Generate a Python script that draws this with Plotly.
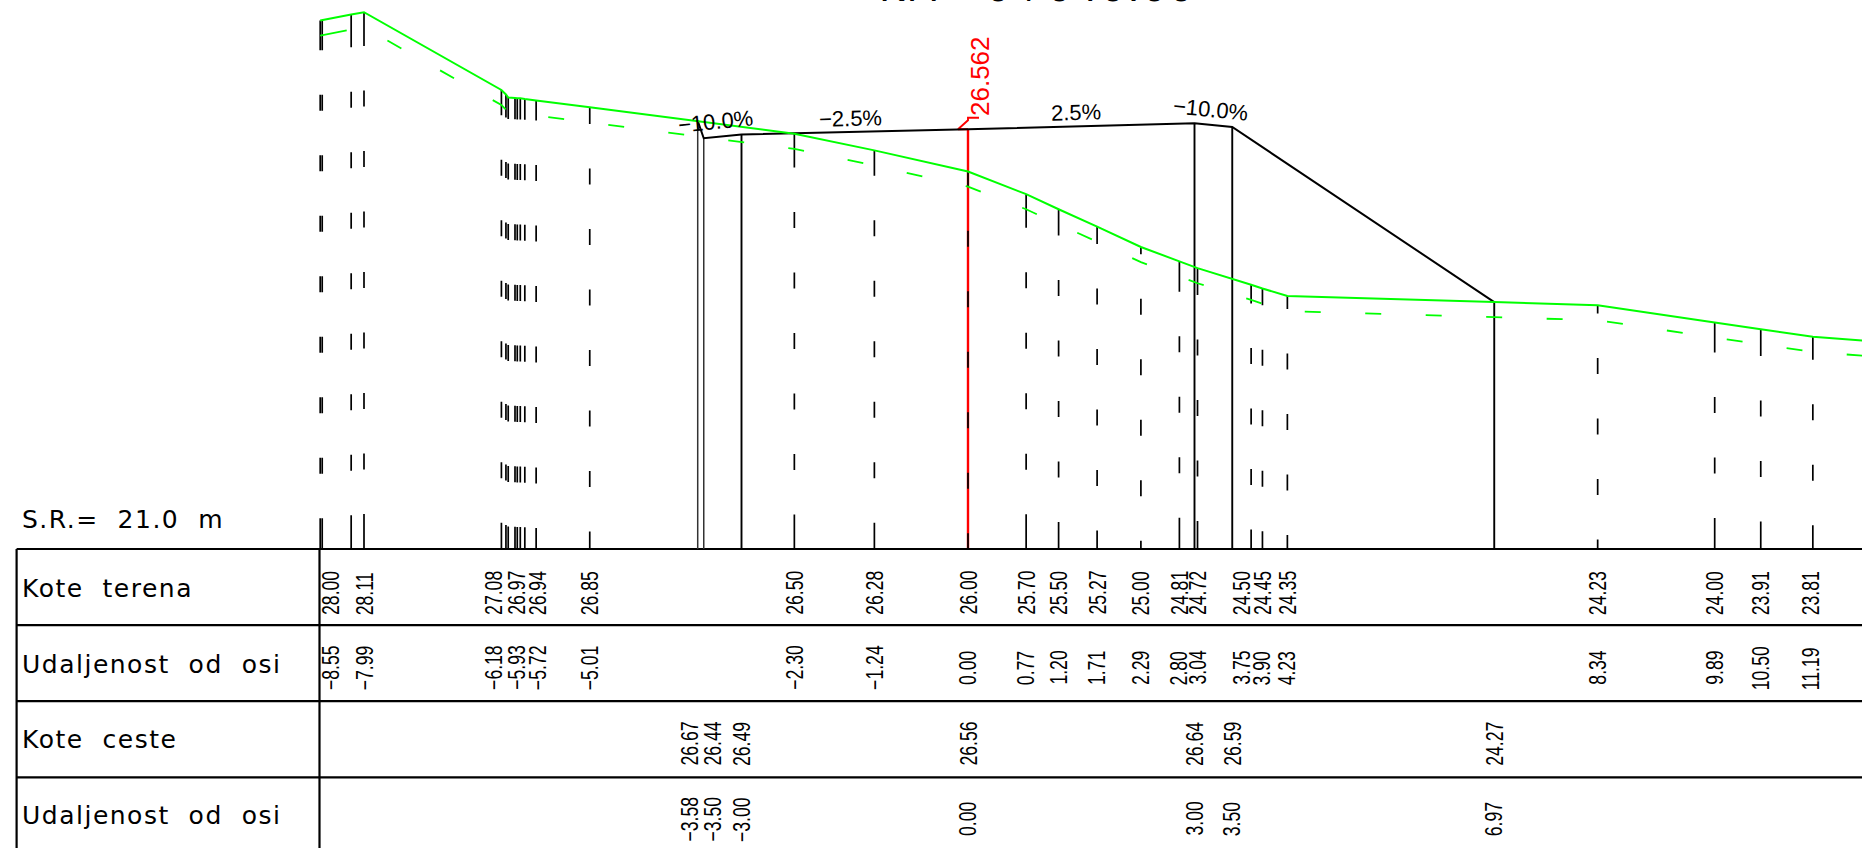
import plotly.graph_objects as go

# ---------- data (metres) ----------
terrain_offset = [-8.58, -8.17, -8.00, -6.18, -6.12, -6.09, -6.00, -5.97, -5.93, -5.87, -5.72, -5.01,
                  -2.30, -1.24, 0.00, 0.77, 1.20, 1.71, 2.29, 2.80, 3.04, 3.75, 3.90, 4.23,
                  6.97, 8.34, 9.89, 10.50, 11.19, 11.85]
terrain_elev = [28.00, 28.08, 28.11, 27.08, 27.02, 26.98, 26.975, 26.97, 26.97, 26.96, 26.94, 26.85,
                26.50, 26.28, 26.00, 25.70, 25.50, 25.27, 25.00, 24.81, 24.72, 24.50, 24.45, 24.35,
                24.27, 24.23, 24.00, 23.91, 23.81, 23.76]
no_tick_offsets = [6.97, 11.85]

road_offset = [-3.58, -3.50, -3.00, 0.00, 3.00, 3.50, 6.97]
road_elev = [26.67, 26.44, 26.49, 26.56, 26.64, 26.59, 24.27]

label_offset_terrain = [-8.55, -7.99, -6.18, -5.93, -5.72, -5.01, -2.30, -1.24, 0.00, 0.77, 1.20, 1.71,
                        2.29, 2.80, 3.04, 3.75, 3.90, 4.23, 8.34, 9.89, 10.50, 11.19]
label_elev_terrain = ["28.00", "28.11", "27.08", "26.97", "26.94", "26.85", "26.50", "26.28", "26.00",
                      "25.70", "25.50", "25.27", "25.00", "24.81", "24.72", "24.50", "24.45", "24.35",
                      "24.23", "24.00", "23.91", "23.81"]
label_dist_terrain = ["−8.55", "−7.99", "−6.18", "−5.93", "−5.72", "−5.01", "−2.30", "−1.24", "0.00",
                      "0.77", "1.20", "1.71", "2.29", "2.80", "3.04", "3.75", "3.90", "4.23",
                      "8.34", "9.89", "10.50", "11.19"]
label_elev_road = ["26.67", "26.44", "26.49", "26.56", "26.64", "26.59", "24.27"]
label_dist_road = ["−3.58", "−3.50", "−3.00", "0.00", "3.00", "3.50", "6.97"]
row_names = ["Kote  terena", "Udaljenost  od  osi", "Kote  ceste", "Udaljenost  od  osi"]
slopes = ["−10.0%", "−2.5%", "2.5%", "−10.0%"]
slope_offset = [-3.34, -1.55, 1.43, 3.21]
slope_elev = [26.66, 26.70, 26.78, 26.82]
slope_angle = [-5.7, -1.5, -1.5, 5.7]
title_text = "KM   0+040.00"
datum_text = "S.R.=  21.0  m"
axis_value = "26.562"

# ---------- layout constants ----------
W, H = 1862, 848
S = 75.5          # px per metre, both axes
X0 = 968          # px of the axis
DATUM = 21.0
Y0 = 549          # px of the datum
DASH, GAP = 16.0, 44.5
PERIOD = DASH + GAP
NUM_FONT = "Liberation Sans, sans-serif"
NUM_SIZE = 23.5
CAD_FONT = "DejaVu Sans, sans-serif"


def ex(px):
    return (px - X0) / S


def ey(py):
    return DATUM + (Y0 - py) / S


def tick_dash(elev):
    L = (elev - DATUM) * S + 1
    e = DASH / 2 + (L % PERIOD) / 2
    n = max(0, round((L - 2 * e - GAP) / PERIOD))
    parts = [e, GAP] + [DASH, GAP] * n + [e, 2000]
    return ",".join(f"{p:.1f}px" for p in parts)


fig = go.Figure()


def line(xs, ys, color="black", width=2.0, dash=None):
    fig.add_trace(go.Scatter(x=xs, y=ys, mode="lines", hoverinfo="skip",
                             line=dict(color=color, width=width, dash=dash, simplify=False)))


# red axis line and level flag
line([0, 0], [DATUM, road_elev[3]], "#ff0000", 2.4)
rt = road_elev[3]
line([0, -10 / S, 0, 0, 11 / S], [rt, rt, rt + 9 / S, rt + 11.5 / S, rt + 11.5 / S], "#ff0000", 1.9)

# table frame
xl, xc = ex(16.6), ex(319.5)
bottom = ey(H)
for k in range(4):
    line([xl, ex(W)], [DATUM - k - k * 0.008] * 2, "black", 2.2)
line([xl, xl], [DATUM, bottom], "black", 2.2)
line([xc, xc], [DATUM, bottom], "black", 2.2)

# road verticals and top
for i, (o, e) in enumerate(zip(road_offset, road_elev)):
    if o == 0:
        continue
    thin = o in (-3.58, -3.50)
    line([o, o], [DATUM, e], "#333333" if thin else "black", 1.5 if thin else 1.9)
line(road_offset, road_elev, "black", 2.0)

# terrain ticks
for o, e in zip(terrain_offset, terrain_elev):
    if o in no_tick_offsets:
        continue
    w = 1.7
    line([o, o], [DATUM, e], "black", w, tick_dash(e))
    if o == terrain_offset[0]:
        line([o + 2 / S, o + 2 / S], [DATUM, e], "black", w, tick_dash(e))

# terrain lines
line(terrain_offset, terrain_elev, "#00ff00", 2.0)
offset_elev = [e - 0.2 for e in terrain_elev]
pattern = "27px," + ",".join(f"{GAP}px,{DASH}px" for _ in range(60))
line(terrain_offset, offset_elev, "#00ff00", 1.8, pattern)


def ann(x, y, text, size, font=CAD_FONT, color="black", angle=0, xa="center", ya="middle", xshift=0, align="center"):
    fig.add_annotation(x=x, y=y, xref="x", yref="y", text=text, showarrow=False, textangle=angle,
                       xanchor=xa, yanchor=ya, xshift=xshift, borderpad=0, borderwidth=0, align=align,
                       font=dict(family=font, size=size, color=color))


nudges = {-8.55: 8, -6.18: -8, -5.93: -4, -5.72: 1.5, 3.75: -9.5, 11.19: -2, -3.58: -8.7, -3.50: 8.3}


def row_y(text, plain, minus):
    return ey(minus if (text.startswith("−") or len(text) > 4) else plain)


def num(o, y, text):
    ann(o, y, text, NUM_SIZE, NUM_FONT, angle=-90, ya="bottom", xshift=nudges.get(o, 0), align="left")


for o, a, b in zip(label_offset_terrain, label_elev_terrain, label_dist_terrain):
    num(o, ey(615), a)
    num(o, row_y(b, 685, 690), b)
for o, a, b in zip(road_offset, label_elev_road, label_dist_road):
    num(o, ey(766), a)
    num(o, row_y(b, 836, 842), b)

for k, name in enumerate(row_names):
    ann(ex(22), DATUM - k - 0.526, name, 25, xa="left", align="left")
ann(ex(22), ey(519), datum_text, 25, xa="left", align="left")
ann(ex(879), ey(10), title_text, 38, xa="left", ya="bottom", align="left")
ann(0, ey(116), axis_value, 26, "Liberation Sans, sans-serif", "#ff0000", angle=-90, ya="bottom", xshift=12)
for o, e, t, a in zip(slope_offset, slope_elev, slopes, slope_angle):
    ann(o, e, t, 22, "Liberation Sans, sans-serif", angle=a)

fig.update_layout(
    width=W, height=H, margin=dict(l=0, r=0, t=0, b=0), showlegend=False,
    paper_bgcolor="white", plot_bgcolor="white",
    xaxis=dict(range=[ex(0), ex(W)], visible=False, fixedrange=True),
    yaxis=dict(range=[ey(H), ey(0)], visible=False, fixedrange=True),
)

# condense the CAD numerals and open up the CAD lettering (text stays real text)
post = """
document.body.style.margin='0';document.body.style.overflow='hidden';
document.querySelectorAll('.annotation-text').forEach(function(el){
  var fs=parseFloat(el.style.fontSize);
  if(fs===%s){
    var x=parseFloat(el.getAttribute('x'))||0,y=parseFloat(el.getAttribute('y'))||0;
    el.setAttribute('transform','translate('+x+','+y+') scale(0.75,1) translate('+(-x)+','+(-y)+')');
  } else if(fs===25){ el.style.letterSpacing='1.5px'; }
  else if(fs===38){ el.style.letterSpacing='2.6px'; }
});
""" % NUM_SIZE
fig.write_html("out.html", config={"displayModeBar": False}, post_script=post)
